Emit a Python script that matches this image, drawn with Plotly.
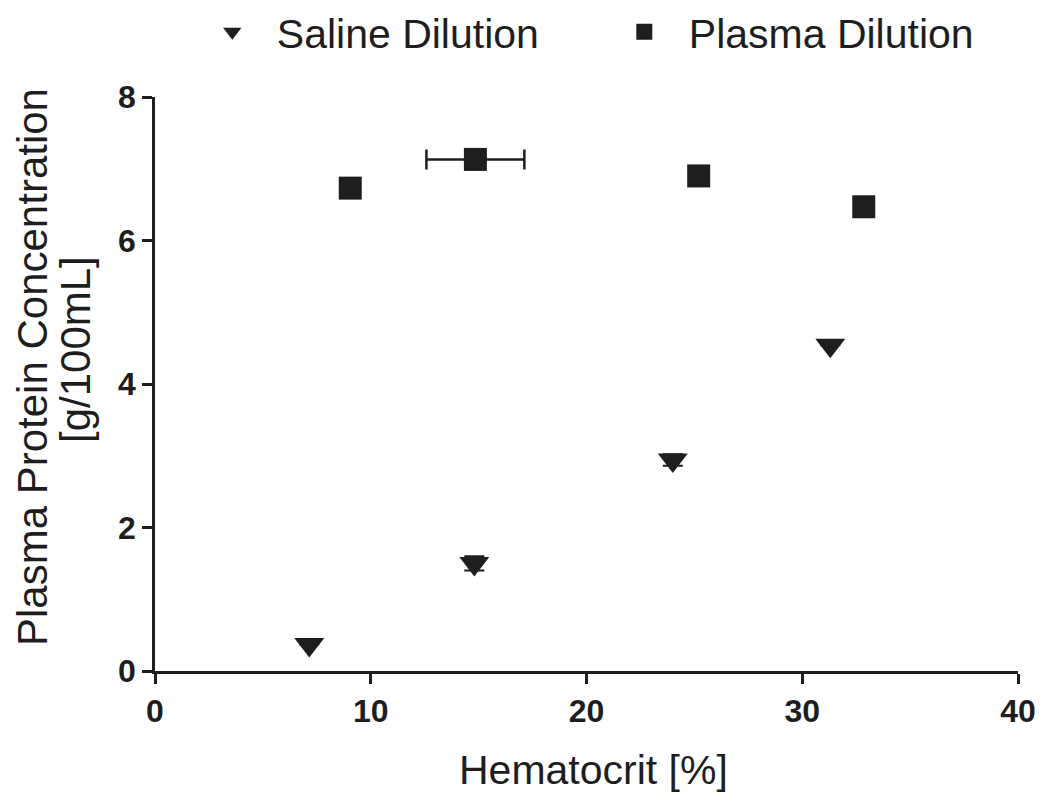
import plotly.graph_objects as go

# data
saline_x = [7.15, 14.8, 24.0, 31.3]
saline_y = [0.37, 1.5, 2.94, 4.54]
saline_err_y = [0.0, 0.1, 0.08, 0.0]

plasma_x = [9.05, 14.85, 25.2, 32.85]
plasma_y = [6.73, 7.13, 6.9, 6.47]
plasma_err_x = [0.0, 2.27, 0.0, 0.0]

x_ticks = [0, 10, 20, 30, 40]
y_ticks = [0, 2, 4, 6, 8]

ink = 'rgb(30,30,30)'
FONT = "Liberation Sans, Arial, sans-serif"

fig = go.Figure()
fig.add_trace(go.Scatter(
    x=saline_x, y=saline_y, mode='markers', name='Saline Dilution',
    marker=dict(symbol='triangle-down', size=26, color=ink),
    error_y=dict(type='data', array=saline_err_y, color=ink, thickness=2, width=10),
    cliponaxis=False))
fig.add_trace(go.Scatter(
    x=plasma_x, y=plasma_y, mode='markers', name='Plasma Dilution',
    marker=dict(symbol='square', size=23, color=ink),
    error_x=dict(type='data', array=plasma_err_x, color=ink, thickness=2.5, width=10),
    cliponaxis=False))

fig.update_layout(
    template="simple_white",
    width=1050, height=802,
    margin=dict(l=147, r=40, t=89, b=139, autoexpand=False),
    font=dict(family=FONT, size=42, color=ink),
    legend=dict(orientation='h', x=0.038, xanchor='left', y=1.113, yanchor='middle',
                font=dict(size=41), itemsizing='trace', itemwidth=79,
                entrywidth=318, entrywidthmode='pixels', tracegroupgap=0),
    plot_bgcolor='white', paper_bgcolor='white',
    annotations=[
        dict(text='Hematocrit [%]', xref='paper', yref='paper', x=0.5085, y=0,
             yshift=-99, xanchor='center', yanchor='middle', showarrow=False,
             font=dict(size=41)),
        dict(text='Plasma Protein Concentration', xref='paper', yref='paper',
             x=0, y=0.5, xshift=-123, yshift=17, textangle=-90,
             xanchor='center', yanchor='middle', showarrow=False, font=dict(size=42)),
        dict(text='[g/100mL]', xref='paper', yref='paper',
             x=0, y=0.5, xshift=-80, yshift=34, textangle=-90,
             xanchor='center', yanchor='middle', showarrow=False, font=dict(size=42)),
    ],
)
fig.update_xaxes(range=[0, 40], tickvals=x_ticks,
                 showline=True, linewidth=2.5, linecolor=ink,
                 ticks='outside', ticklen=10, tickwidth=2.5, tickcolor=ink,
                 tickfont=dict(family=FONT, size=32, color=ink, weight='bold'),
                 showgrid=False, zeroline=False, automargin=False)
fig.update_yaxes(range=[0, 8], tickvals=y_ticks,
                 showline=True, linewidth=2.5, linecolor=ink,
                 ticks='outside', ticklen=10, tickwidth=2.5, tickcolor=ink,
                 tickfont=dict(family=FONT, size=32, color=ink, weight='bold'),
                 showgrid=False, zeroline=False, automargin=False)

fig.write_html("out.html")
